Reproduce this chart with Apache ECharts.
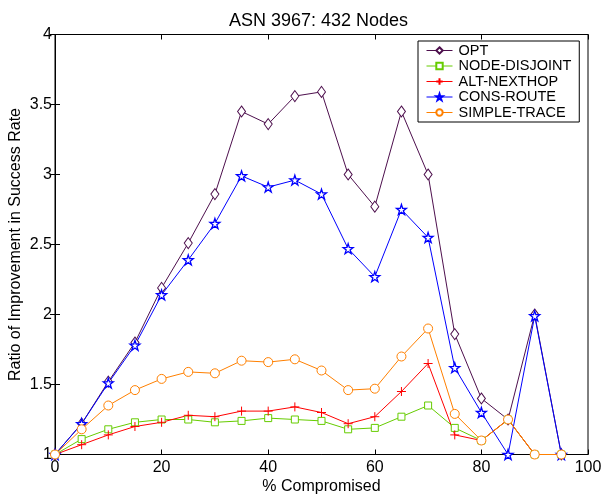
<!DOCTYPE html>
<html>
<head>
<meta charset="utf-8">
<script src="https://cdn.jsdelivr.net/npm/echarts@6/dist/echarts.min.js"></script>
<style>
  html, body { margin: 0; padding: 0; background: #fff; }
  #chart { width: 604px; height: 495px; }
</style>
</head>
<body>
<div id="chart"></div>
<script>
// Percent of nodes compromised (x axis)
const compromised = [0, 5, 10, 15, 20, 25, 30, 35, 40, 45, 50, 55, 60, 65, 70, 75, 80, 85, 90, 95];

// Ratio of improvement in success rate for each scheme
const opt          = [1, 1.22, 1.52, 1.80, 2.19, 2.51, 2.86, 3.45, 3.36, 3.56, 3.59, 3.00, 2.77, 3.45, 3.00, 1.86, 1.40, 1.25, 2.00, 1.00];
const nodeDisjoint = [1, 1.11, 1.18, 1.23, 1.25, 1.25, 1.23, 1.24, 1.26, 1.25, 1.24, 1.18, 1.19, 1.27, 1.35, 1.19, 1.10, 1.25, 1.00, 1.00];
const altNexthop   = [1, 1.07, 1.14, 1.20, 1.23, 1.28, 1.27, 1.31, 1.31, 1.34, 1.30, 1.22, 1.27, 1.45, 1.65, 1.14, 1.10, 1.25, 1.00, 1.00];
const consRoute    = [1, 1.22, 1.51, 1.78, 2.14, 2.39, 2.65, 2.99, 2.91, 2.96, 2.86, 2.47, 2.27, 2.75, 2.55, 1.62, 1.30, 1.00, 1.99, 1.00];
const simpleTrace  = [1, 1.18, 1.35, 1.46, 1.54, 1.59, 1.58, 1.67, 1.66, 1.68, 1.60, 1.46, 1.47, 1.70, 1.90, 1.29, 1.10, 1.25, 1.00, 1.00];

const seriesNames = ['OPT', 'NODE-DISJOINT', 'ALT-NEXTHOP', 'CONS-ROUTE', 'SIMPLE-TRACE'];

const FONT = '"Liberation Sans", Arial, Helvetica, sans-serif';

const plusPath = 'path://M5 0L5 10M0 5L10 5';
const starPath = 'path://M50 0L61.8 35.6L100 36.3L69.4 59.1L80.9 95.1L50 73.6L19.1 95.1L30.6 59.1L0 36.3L38.2 35.6Z';

function pairs(values) {
  return compromised.map((x, i) => [x, values[i]]);
}

function lineSeries(name, values, color, symbol, size, fill, border) {
  return {
    name: name,
    type: 'line',
    data: pairs(values),
    symbol: symbol,
    symbolSize: size,
    showSymbol: true,
    animation: false,
    lineStyle: { color: color, width: 1 },
    itemStyle: { color: fill, borderColor: color, borderWidth: border || 1 },
    emphasis: { disabled: true },
    z: 3
  };
}

const chart = echarts.init(document.getElementById('chart'), null, { renderer: 'canvas' });

const tickStyle = { show: true, inside: true, length: 5, lineStyle: { color: '#000', width: 1 } };

chart.setOption({
  backgroundColor: '#fff',
  animation: false,
  title: {
    text: 'ASN 3967: 432 Nodes',
    left: 313.5,
    textAlign: 'center',
    top: 7,
    textStyle: { fontFamily: FONT, fontSize: 18, fontWeight: 'normal', color: '#000' }
  },
  grid: {
    left: 55, right: 16, top: 34.5, bottom: 40.5,
    containLabel: false,
    outerBoundsMode: 'none',
    show: true, borderColor: '#000', borderWidth: 1, backgroundColor: 'transparent'
  },
  legend: {
    data: seriesNames,
    orient: 'vertical',
    left: 418,
    top: 41,
    width: 165,
    padding: [2, 8, 2, 8],
    itemGap: 0.5,
    itemWidth: 26,
    itemHeight: 8,
    backgroundColor: '#fff',
    borderColor: '#000',
    borderWidth: 1,
    lineStyle: { width: 1 },
    textStyle: { fontFamily: FONT, fontSize: 14.5, color: '#000', padding: [0, 0, 0, 1] }
  },
  xAxis: [
    {
      type: 'value', min: 0, max: 100, interval: 20,
      name: '% Compromised', nameLocation: 'middle', nameGap: 24,
      nameMoveOverlap: false,
      nameTextStyle: { fontFamily: FONT, fontSize: 16, color: '#000' },
      axisLine: { show: true, lineStyle: { color: '#000' } },
      axisTick: tickStyle,
      axisLabel: { fontFamily: FONT, fontSize: 16, color: '#000', margin: 5 },
      splitLine: { show: false }
    },
    {
      type: 'value', min: 0, max: 100, interval: 20, position: 'top',
      axisLine: { show: true, lineStyle: { color: '#000' } },
      axisTick: tickStyle,
      axisLabel: { show: false },
      splitLine: { show: false }
    }
  ],
  yAxis: [
    {
      type: 'value', min: 1, max: 4, interval: 0.5,
      name: 'Ratio of Improvement in Success Rate', nameLocation: 'middle', nameGap: 31,
      nameMoveOverlap: false,
      nameRotate: 90,
      nameTextStyle: { fontFamily: FONT, fontSize: 16, color: '#000' },
      axisLine: { show: true, lineStyle: { color: '#000' } },
      axisTick: tickStyle,
      axisLabel: { fontFamily: FONT, fontSize: 16, color: '#000', margin: 3 },
      splitLine: { show: false }
    },
    {
      type: 'value', min: 1, max: 4, interval: 0.5, position: 'right',
      axisLine: { show: true, lineStyle: { color: '#000' } },
      axisTick: tickStyle,
      axisLabel: { show: false },
      splitLine: { show: false }
    }
  ],
  series: [
    lineSeries('OPT', opt, '#4d0f4d', 'diamond', [8, 11], '#fff'),
    lineSeries('NODE-DISJOINT', nodeDisjoint, '#66cc00', 'rect', 7, '#fff'),
    lineSeries('ALT-NEXTHOP', altNexthop, '#ff0000', plusPath, 9, '#ff0000'),
    lineSeries('CONS-ROUTE', consRoute, '#0000ff', starPath, 10, '#fff', 1.3),
    lineSeries('SIMPLE-TRACE', simpleTrace, '#ff8000', 'circle', 9, '#fff')
  ]
});
</script>
</body>
</html>
